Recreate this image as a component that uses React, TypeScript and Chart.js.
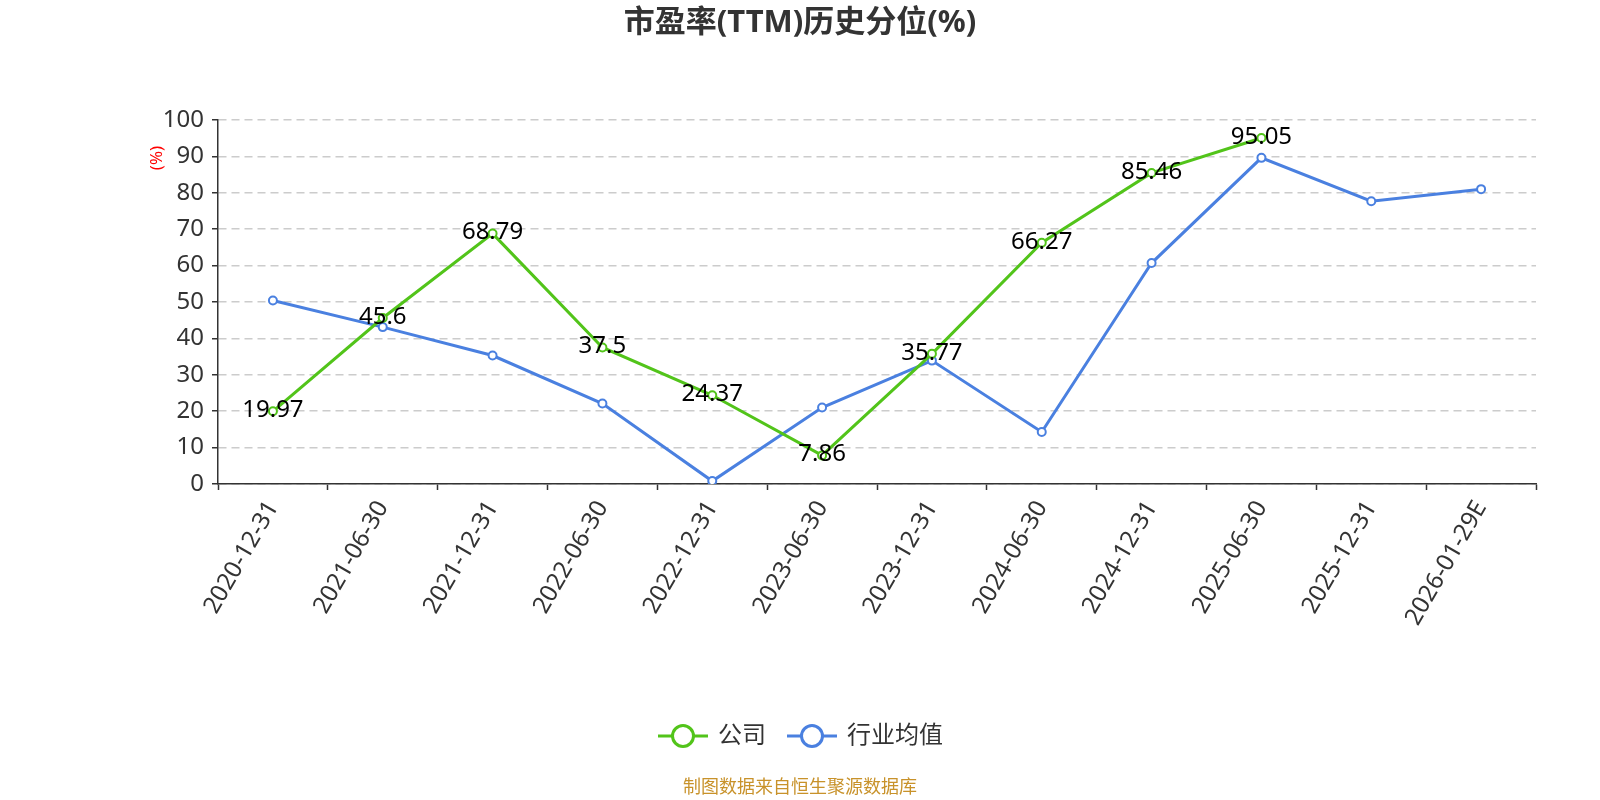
import React, { useEffect, useRef } from "react";
import { Chart, registerables } from "chart.js";

Chart.register(...registerables);

const categories = [
  "2020-12-31", "2021-06-30", "2021-12-31", "2022-06-30", "2022-12-31", "2023-06-30",
  "2023-12-31", "2024-06-30", "2024-12-31", "2025-06-30", "2025-12-31", "2026-01-29E",
];
const companyValues: (number | null)[] = [19.97, 45.6, 68.79, 37.5, 24.37, 7.86, 35.77, 66.27, 85.46, 95.05, null, null];
const industryValues = [50.4, 43.1, 35.3, 22.1, 0.8, 21.0, 33.9, 14.3, 60.7, 89.6, 77.7, 81.0];
const seriesNames = ["公司", "行业均值"];
const titleText = "市盈率(TTM)历史分位(%)";
const unitText = "(%)";
const footerText = "制图数据来自恒生聚源数据库";

const GREEN = "#52c41a";
const BLUE = "#4a80e0";
const FONT = "'Noto Sans', 'Noto Sans CJK SC', sans-serif";

const overlayPlugin = {
  id: "overlay",
  afterDatasetsDraw(chart: any) {
    const ctx = chart.ctx;
    const meta = chart.getDatasetMeta(0);
    ctx.save();
    ctx.font = `24px ${FONT}`;
    ctx.fillStyle = "#000";
    ctx.textAlign = "center";
    ctx.textBaseline = "middle";
    meta.data.forEach((pt: any, i: number) => {
      const v = companyValues[i];
      if (v === null || v === undefined) return;
      ctx.fillText(String(v), pt.x, pt.y - 1);
    });
    ctx.restore();
  },
  afterDraw(chart: any) {
    const ctx = chart.ctx;
    ctx.save();
    // title
    ctx.font = `bold 31px ${FONT}`;
    ctx.fillStyle = "#333";
    ctx.textAlign = "center";
    ctx.textBaseline = "middle";
    ctx.fillText(titleText, 800, 23);
    // unit
    ctx.save();
    ctx.translate(157, 158);
    ctx.rotate(-Math.PI / 2);
    ctx.font = `17px ${FONT}`;
    ctx.fillStyle = "#ff0000";
    ctx.fillText(unitText, 0, 0);
    ctx.restore();
    // legend
    const items = [
      { name: seriesNames[0], color: GREEN, x0: 658, tx: 718 },
      { name: seriesNames[1], color: BLUE, x0: 787, tx: 847 },
    ];
    const ly = 736;
    items.forEach((it) => {
      ctx.strokeStyle = it.color;
      ctx.lineWidth = 3;
      ctx.beginPath();
      ctx.moveTo(it.x0, ly);
      ctx.lineTo(it.x0 + 50, ly);
      ctx.stroke();
      ctx.beginPath();
      ctx.arc(it.x0 + 25, ly, 10.5, 0, Math.PI * 2);
      ctx.fillStyle = "#fff";
      ctx.fill();
      ctx.stroke();
      ctx.font = `24px ${FONT}`;
      ctx.fillStyle = "#333";
      ctx.textAlign = "left";
      ctx.fillText(it.name, it.tx, ly);
    });
    // footer
    ctx.font = `18px ${FONT}`;
    ctx.fillStyle = "#c8922a";
    ctx.textAlign = "center";
    ctx.fillText(footerText, 800, 788);
    ctx.restore();
  },
};

export default function App() {
  const ref = useRef<HTMLCanvasElement | null>(null);
  useEffect(() => {
    if (!ref.current) return;
    const chart = new Chart(ref.current, {
      type: "line",
      data: {
        labels: categories,
        datasets: [
          {
            label: seriesNames[0],
            data: companyValues,
            borderColor: GREEN,
            backgroundColor: "#fff",
            borderWidth: 3,
            pointRadius: 4,
            pointBorderWidth: 2,
            pointBackgroundColor: "#fff",
            pointBorderColor: GREEN,
            tension: 0,
            spanGaps: false,
          },
          {
            label: seriesNames[1],
            data: industryValues,
            borderColor: BLUE,
            backgroundColor: "#fff",
            borderWidth: 3,
            pointRadius: 4,
            pointBorderWidth: 2,
            pointBackgroundColor: "#fff",
            pointBorderColor: BLUE,
            tension: 0,
          },
        ],
      },
      options: {
        responsive: false,
        animation: false,
        layout: { padding: { top: 120, right: 64, left: 0, bottom: 0 } },
        plugins: { legend: { display: false }, title: { display: false }, tooltip: { enabled: false } },
        scales: {
          x: {
            offset: true,
            grid: {
              display: true,
              offset: true,
              drawOnChartArea: false,
              drawTicks: true,
              tickLength: 6,
              tickColor: "#333",
              tickWidth: 1.5,
            },
            border: { display: true, color: "#333", width: 1.5 },
            ticks: {
              autoSkip: false,
              minRotation: 60,
              maxRotation: 60,
              padding: 6,
              color: "#333",
              font: { size: 24, family: FONT },
            },
            afterFit: (scale: any) => {
              scale.height = 316;
            },
          },
          y: {
            min: 0,
            max: 100,
            ticks: {
              stepSize: 10,
              padding: 8,
              color: "#333",
              font: { size: 24, family: FONT },
            },
            grid: {
              color: "#ccc",
              lineWidth: 1.5,
              drawTicks: true,
              tickLength: 6,
              tickColor: "#333",
              tickBorderDash: [],
              tickWidth: 1.5,
            },
            border: { display: true, color: "#333", width: 1.5, dash: [8, 5] },
            afterFit: (scale: any) => {
              scale.width = 218;
            },
          },
        },
      },
      plugins: [overlayPlugin],
    });
    return () => chart.destroy();
  }, []);
  return (
    <div style={{ position: "fixed", left: 0, top: 0, width: 1600, height: 800, background: "#fff" }}>
      <canvas ref={ref} width={1600} height={800} style={{ display: "block" }} />
    </div>
  );
}
